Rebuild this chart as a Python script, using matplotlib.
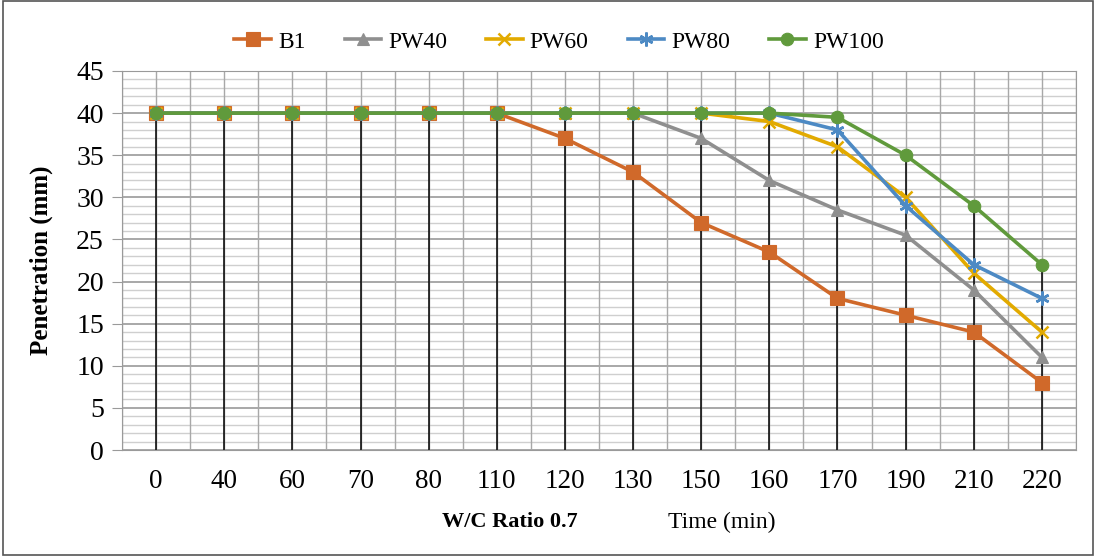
import matplotlib.pyplot as plt
import numpy as np
from matplotlib.patches import Rectangle

# data
times = ['0', '40', '60', '70', '80', '110', '120', '130', '150', '160', '170', '190', '210', '220']
b1 = [40, 40, 40, 40, 40, 40, 37, 33, 27, 23.5, 18, 16, 14, 8]
pw40 = [40, 40, 40, 40, 40, 40, 40, 40, 37, 32, 28.5, 25.5, 19, 11]
pw60 = [40, 40, 40, 40, 40, 40, 40, 40, 40, 39, 36, 30, 21, 14]
pw80 = [40, 40, 40, 40, 40, 40, 40, 40, 40, 40, 38, 29, 22, 18]
pw100 = [40, 40, 40, 40, 40, 40, 40, 40, 40, 40, 39.5, 35, 29, 22]

plt.rcParams['font.family'] = ['Liberation Serif', 'DejaVu Serif']

fig = plt.figure(figsize=(10.96, 5.56), dpi=100)
ax = fig.add_axes([122 / 1096, 1 - 450 / 556, (1076 - 122) / 1096, (450 - 71) / 556])

x = np.arange(len(times))

# grid
for v in np.arange(0, 46, 1):
    major = v % 5 == 0
    ax.axhline(v, color='#9a9a9a' if major else '#cfcfcf', lw=1.2 if major else 1.0, zorder=0)
for v in np.arange(-0.5, len(times), 0.5):
    ax.axvline(v, color='#a8a8a8', lw=1.0, zorder=0)

# drop lines from the highest point down to the axis
tops = np.max([b1, pw40, pw60, pw80, pw100], axis=0)
ax.vlines(x, 0, tops, color='black', lw=1.1, zorder=1)

series = [
    ('B1', b1, '#d0692a', 's', 9.5, 2.5),
    ('PW40', pw40, '#8f8f8f', '^', 9, 2.5),
    ('PW60', pw60, '#e2aa00', 'x', 9, 1.8),
    ('PW80', pw80, '#4d8ac4', (6, 2, 0), 10, 1.8),
    ('PW100', pw100, '#609a3c', 'o', 9, 2.5),
]
for i, (name, vals, col, mk, ms, mew) in enumerate(series):
    ax.plot(x, vals, color=col, lw=2.6, marker=mk, markersize=ms,
            markeredgewidth=mew if mk in ('x', (6, 2, 0)) else 0.8,
            markeredgecolor=col, label=name, zorder=2 + i)

ax.set_xlim(-0.5, len(times) - 0.5)
ax.set_ylim(0, 45)
ax.set_yticks(range(0, 46, 5))
ax.set_xticks(x)
ax.set_xticklabels(times)
ax.tick_params(axis='x', length=0, labelsize=19.5, pad=14)
ax.tick_params(axis='y', length=7, color='#9a9a9a', labelsize=20, pad=6)
for s in ax.spines.values():
    s.set_color('#9a9a9a')

ax.set_ylabel('Penetration (mm)', fontsize=18, fontweight='bold')
ax.yaxis.set_label_coords((53 - 122) / 954, 0.5)

fig.text(510 / 1096, 1 - 522 / 556, 'W/C Ratio 0.7', fontsize=16, fontweight='bold',
         ha='center', va='center')
fig.text(722 / 1096, 1 - 522 / 556, 'Time (min)', fontsize=17, ha='center', va='center')

fig.legend(loc='center', bbox_to_anchor=(559 / 1096, 1 - 42 / 556), ncol=5, frameon=False,
           fontsize=17, handlelength=1.55, columnspacing=1.65, handletextpad=0.3)

fig.patches.append(Rectangle((0.003, 0.002), 0.994, 0.996, transform=fig.transFigure,
                             fill=False, edgecolor='#555555', lw=1.2))

fig.savefig('out.png', dpi=100)
